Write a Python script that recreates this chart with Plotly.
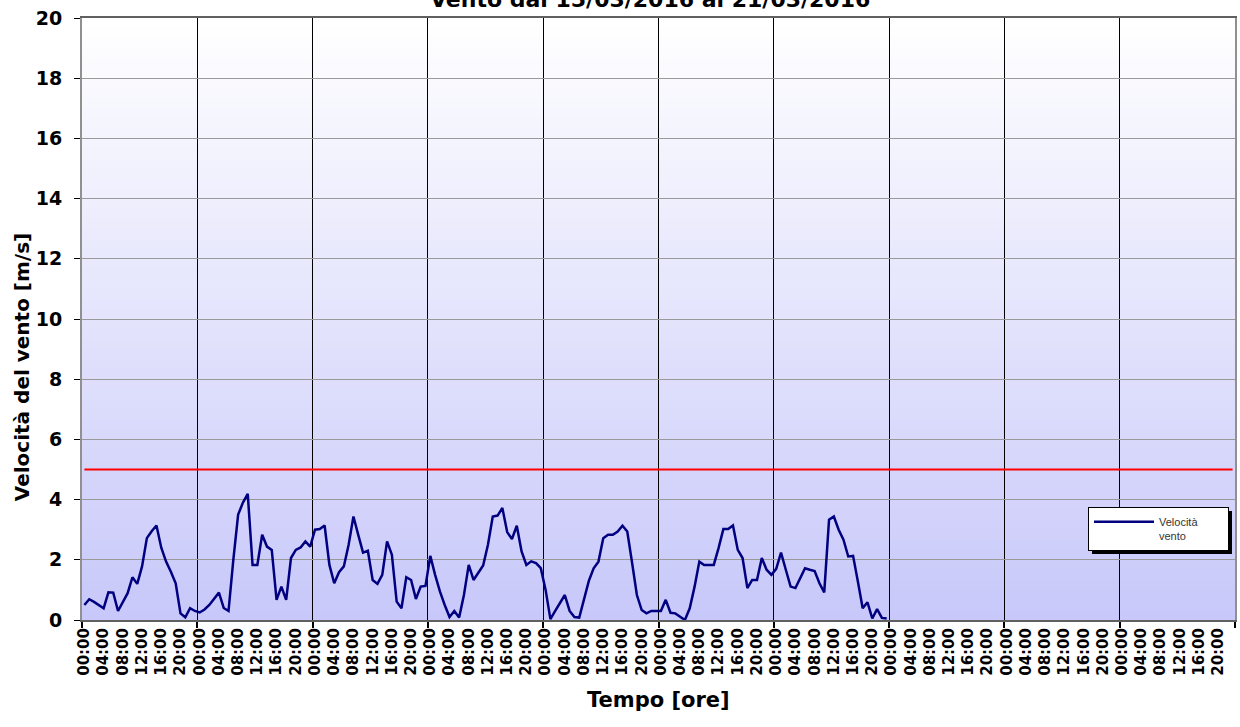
import plotly.graph_objects as go

TITLE = "Vento dal 15/03/2016 al 21/03/2016"
Y_TITLE = "Velocità del vento [m/s]"
X_TITLE = "Tempo [ore]"
SERIES_NAME = "Velocità<br>vento"
THRESHOLD = 5
N_DAYS_AXIS = 10
HOURS_PER_DAY = 24
TICK_HOURS = ["00:00", "04:00", "08:00", "12:00", "16:00", "20:00"]

# hourly wind speed [m/s], one list per day
day_15 = [0.5, 0.69, 0.6, 0.5, 0.39, 0.92, 0.91, 0.3, 0.6, 0.89, 1.42, 1.2,
          1.78, 2.72, 2.95, 3.14, 2.4, 1.94, 1.6, 1.22, 0.22, 0.09, 0.39, 0.3]
day_16 = [0.25, 0.35, 0.5, 0.7, 0.91, 0.4, 0.3, 2.0, 3.5, 3.9, 4.19, 1.83,
          1.83, 2.83, 2.44, 2.33, 0.67, 1.11, 0.67, 2.06, 2.33, 2.41, 2.61, 2.44]
day_17 = [3.0, 3.02, 3.14, 1.83, 1.22, 1.59, 1.78, 2.5, 3.44, 2.83, 2.24, 2.3,
          1.33, 1.2, 1.5, 2.61, 2.17, 0.61, 0.39, 1.42, 1.33, 0.7, 1.11, 1.13]
day_18 = [2.13, 1.5, 0.95, 0.5, 0.1, 0.3, 0.08, 0.83, 1.83, 1.33, 1.56, 1.81,
          2.5, 3.44, 3.47, 3.72, 2.92, 2.69, 3.13, 2.28, 1.83, 1.95, 1.89, 1.72]
day_19 = [1.0, 0.03, 0.3, 0.56, 0.83, 0.3, 0.1, 0.08, 0.72, 1.3, 1.72, 1.94,
          2.72, 2.83, 2.83, 2.94, 3.13, 2.94, 1.9, 0.83, 0.33, 0.22, 0.3, 0.3]
day_20 = [0.3, 0.67, 0.24, 0.22, 0.1, 0.0, 0.39, 1.1, 1.94, 1.83, 1.83, 1.83,
          2.39, 3.02, 3.02, 3.14, 2.33, 2.06, 1.06, 1.33, 1.33, 2.06, 1.67, 1.5]
day_21 = [1.7, 2.24, 1.67, 1.11, 1.06, 1.39, 1.72, 1.67, 1.63, 1.22, 0.92, 3.33,
          3.44, 3.0, 2.67, 2.11, 2.13, 1.28, 0.39, 0.59, 0.05, 0.36, 0.07, 0.05]

wind = day_15 + day_16 + day_17 + day_18 + day_19 + day_20 + day_21

n_cat = N_DAYS_AXIS * HOURS_PER_DAY
x_wind = [i + 0.5 for i in range(len(wind))]
tickvals = [d * HOURS_PER_DAY + int(h[:2]) + 0.5 for d in range(N_DAYS_AXIS) for h in TICK_HOURS]
ticktext = [h for d in range(N_DAYS_AXIS) for h in TICK_HOURS]
day_bounds = [d * HOURS_PER_DAY for d in range(N_DAYS_AXIS + 1)]

fig = go.Figure()
fig.add_trace(go.Scatter(
    x=[0.5, n_cat - 0.5], y=[THRESHOLD, THRESHOLD], mode="lines",
    line=dict(color="#ff0000", width=2), showlegend=False, hoverinfo="skip"))
fig.add_trace(go.Scatter(
    x=x_wind, y=wind, mode="lines", name=SERIES_NAME,
    line=dict(color="#000080", width=2.5)))

# vertical gradient background of the plot area (overlapping strips, no seams)
shapes = []
N_STRIPS = 60
for k in range(N_STRIPS):
    f = (k + 0.5) / N_STRIPS  # 0 bottom -> 1 top
    r = round(200 + (255 - 200) * f)
    b = round(250 + (255 - 250) * f)
    shapes.append(dict(type="rect", xref="paper", yref="paper",
                       x0=0, x1=1, y0=k / N_STRIPS, y1=min(1, (k + 1) / N_STRIPS + 0.006),
                       fillcolor=f"rgb({r},{r},{b})", line=dict(width=0), layer="below"))

# legend shadow
PW, PH = 1153, 602
LX, LY = 0.8725, 0.1877
LW, LH = 140, 43
shapes.append(dict(type="rect", xref="paper", yref="paper",
                   x0=LX + 4 / PW, x1=LX + (LW + 4) / PW,
                   y0=LY - (LH + 4) / PH, y1=LY - 4 / PH,
                   fillcolor="black", line=dict(width=0), layer="above"))

fig.update_layout(
    width=1240, height=727,
    margin=dict(l=82, r=5, t=18, b=107, autoexpand=False),
    paper_bgcolor="white", plot_bgcolor="white",
    shapes=shapes,
    showlegend=True,
    legend=dict(x=LX, y=LY, xanchor="left", yanchor="top", orientation="h",
                bgcolor="white", bordercolor="black", borderwidth=1,
                font=dict(family="Liberation Sans", size=11, color="#333333"),
                valign="top", itemwidth=60, entrywidth=64, entrywidthmode="pixels"),
    annotations=[
        dict(text=TITLE, xref="paper", yref="paper", x=0.493, y=1,
             xanchor="center", yanchor="bottom", yshift=4, showarrow=False,
             font=dict(family="DejaVu Sans", size=22, color="black", weight="bold")),
        dict(text=X_TITLE, xref="paper", yref="paper", x=0.5, y=-0.133,
             xanchor="center", yanchor="middle", showarrow=False,
             font=dict(family="DejaVu Sans", size=21, color="black", weight="bold")),
        dict(text=Y_TITLE, xref="paper", yref="paper", x=-0.052, y=0.42,
             xanchor="center", yanchor="middle", textangle=-90, showarrow=False,
             font=dict(family="DejaVu Sans", size=20, color="black", weight="bold")),
    ],
)

fig.update_xaxes(
    range=[0, n_cat], tickmode="array", tickvals=tickvals, ticktext=ticktext,
    tickangle=-90, ticks="", showgrid=False, zeroline=False, automargin=False,
    tickfont=dict(family="DejaVu Sans", size=15, color="black", weight="bold"),
    showline=True, linecolor="#606060", linewidth=2, mirror=True,
    minor=dict(tickmode="array", tickvals=day_bounds, ticks="outside", ticklen=6,
               tickwidth=2, tickcolor="black", showgrid=True, gridcolor="black", gridwidth=1),
)
fig.update_yaxes(
    range=[0, 20], dtick=2, tick0=0, ticks="outside", ticklen=6, tickcolor="black",
    showgrid=True, gridcolor="#999999", gridwidth=1, zeroline=False, automargin=False,
    tickfont=dict(family="DejaVu Sans", size=19, color="black", weight="bold"),
    showline=True, linecolor="#909090", linewidth=2, mirror=True,
    ticklabelstandoff=8,
)

fig.write_html("out.html", config={"displayModeBar": False},
               post_script="document.body.style.margin='0';document.body.style.overflow='hidden';")
